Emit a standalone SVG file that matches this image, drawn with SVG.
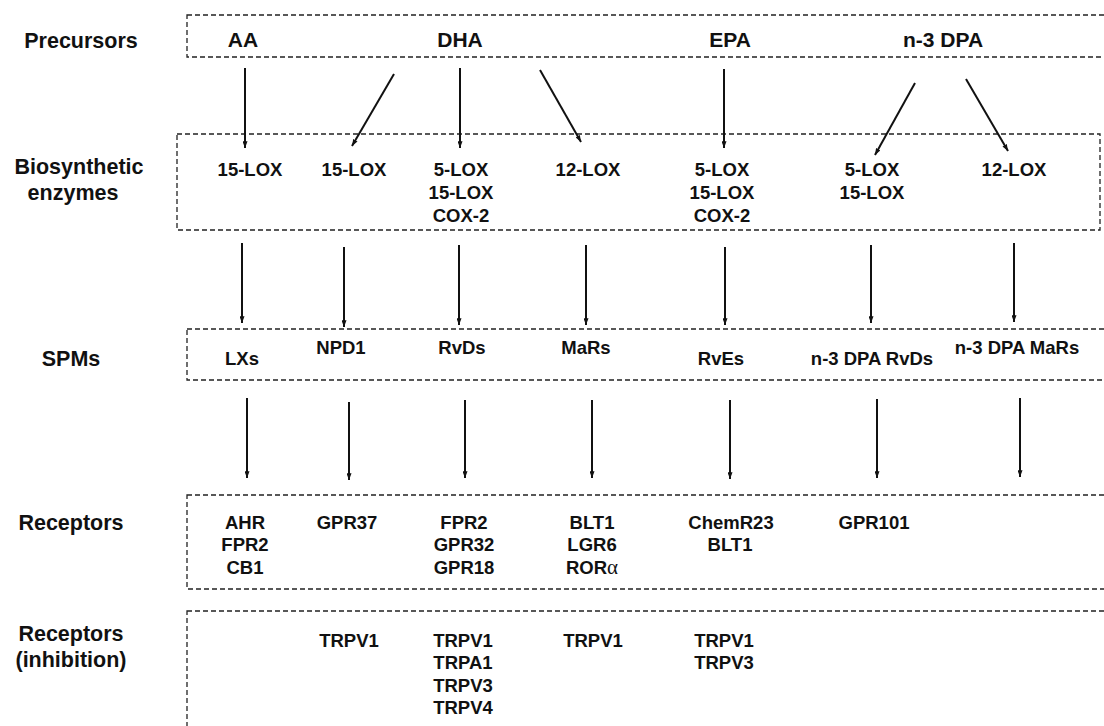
<svg xmlns="http://www.w3.org/2000/svg" width="1104" height="726" viewBox="0 0 1104 726">
<defs>
<marker id="ah" viewBox="0 0 8 6" refX="8" refY="3" markerWidth="7" markerHeight="5" markerUnits="userSpaceOnUse" orient="auto">
<path d="M0,0 L8,3 L0,6 z" fill="#111"/>
</marker>
</defs>
<style>
.box{fill:none;stroke:#222;stroke-width:1.3;stroke-dasharray:5 3}
.lab{font-family:"Liberation Sans",Arial,sans-serif;font-weight:bold;font-size:21.5px;fill:#111;text-anchor:middle}
.pre{font-family:"Liberation Sans",Arial,sans-serif;font-weight:bold;font-size:21px;fill:#111;text-anchor:middle}
.t{font-family:"Liberation Sans",Arial,sans-serif;font-weight:bold;font-size:18.5px;fill:#111;text-anchor:middle}
.ar{stroke:#111;stroke-width:2;fill:none;marker-end:url(#ah)}
</style>
<rect width="1104" height="726" fill="#fff"/>

<g id="labels">
<text class="lab" x="81" y="47.5">Precursors</text>
<text class="lab" x="79" y="174">Biosynthetic</text>
<text class="lab" x="73" y="200">enzymes</text>
<text class="lab" x="71" y="366">SPMs</text>
<text class="lab" x="71" y="530">Receptors</text>
<text class="lab" x="71" y="641">Receptors</text>
<text class="lab" x="71" y="667">(inhibition)</text>
</g>

<g id="precursors">
<rect class="box" x="187" y="15" width="940" height="42"/>
<text class="pre" x="243" y="46.5">AA</text>
<text class="pre" x="460" y="46.5">DHA</text>
<text class="pre" x="730" y="46.5">EPA</text>
<text class="pre" x="943" y="46.5">n-3 DPA</text>
</g>

<g id="enzymes">
<rect class="box" x="177" y="134" width="923" height="96"/>
<text class="t" x="250" y="176">15-LOX</text>
<text class="t" x="354" y="176">15-LOX</text>
<text class="t" x="461" y="176">5-LOX</text>
<text class="t" x="461" y="199">15-LOX</text>
<text class="t" x="461" y="222">COX-2</text>
<text class="t" x="588" y="176">12-LOX</text>
<text class="t" x="722" y="176">5-LOX</text>
<text class="t" x="722" y="199">15-LOX</text>
<text class="t" x="722" y="222">COX-2</text>
<text class="t" x="872" y="176">5-LOX</text>
<text class="t" x="872" y="199">15-LOX</text>
<text class="t" x="1014" y="176">12-LOX</text>
</g>

<g id="spms">
<rect class="box" x="187" y="329" width="940" height="51"/>
<text class="t" x="242" y="364.5">LXs</text>
<text class="t" x="341" y="353.5">NPD1</text>
<text class="t" x="462" y="353.5">RvDs</text>
<text class="t" x="586" y="353.5">MaRs</text>
<text class="t" x="721" y="364.5">RvEs</text>
<text class="t" x="872" y="364.5">n-3 DPA RvDs</text>
<text class="t" x="1017" y="353.5">n-3 DPA MaRs</text>
</g>

<g id="receptors">
<rect class="box" x="187" y="495" width="940" height="94"/>
<text class="t" x="245" y="528.5">AHR</text>
<text class="t" x="245" y="551">FPR2</text>
<text class="t" x="245" y="573.5">CB1</text>
<text class="t" x="347" y="528.5">GPR37</text>
<text class="t" x="464" y="528.5">FPR2</text>
<text class="t" x="464" y="551">GPR32</text>
<text class="t" x="464" y="573.5">GPR18</text>
<text class="t" x="592" y="528.5">BLT1</text>
<text class="t" x="592" y="551">LGR6</text>
<text class="t" x="592" y="573.5">ROR<tspan font-family="'Liberation Serif',serif" font-weight="normal" font-size="21px">α</tspan></text>
<text class="t" x="731" y="528.5">ChemR23</text>
<text class="t" x="730" y="551">BLT1</text>
<text class="t" x="874" y="528.5">GPR101</text>
</g>

<g id="inhibition">
<rect class="box" x="187" y="611" width="940" height="150"/>
<text class="t" x="349" y="646.5">TRPV1</text>
<text class="t" x="463" y="646.5">TRPV1</text>
<text class="t" x="463" y="669">TRPA1</text>
<text class="t" x="463" y="691.5">TRPV3</text>
<text class="t" x="463" y="714">TRPV4</text>
<text class="t" x="593" y="646.5">TRPV1</text>
<text class="t" x="724" y="646.5">TRPV1</text>
<text class="t" x="724" y="669">TRPV3</text>
</g>

<g id="connectors">
<line class="ar" x1="245" y1="68" x2="245" y2="148"/>
<line class="ar" x1="394" y1="74" x2="352" y2="146"/>
<line class="ar" x1="460" y1="68" x2="460" y2="148"/>
<line class="ar" x1="540" y1="70" x2="581" y2="142"/>
<line class="ar" x1="724" y1="69" x2="724" y2="148"/>
<line class="ar" x1="915" y1="83" x2="875" y2="155"/>
<line class="ar" x1="966" y1="79" x2="1008" y2="151"/>

<line class="ar" x1="242" y1="243" x2="242" y2="323"/>
<line class="ar" x1="344" y1="247" x2="344" y2="327"/>
<line class="ar" x1="459" y1="245" x2="459" y2="325"/>
<line class="ar" x1="586" y1="245" x2="586" y2="325"/>
<line class="ar" x1="725" y1="247" x2="725" y2="325"/>
<line class="ar" x1="871" y1="245" x2="871" y2="323"/>
<line class="ar" x1="1014" y1="243" x2="1014" y2="322"/>

<line class="ar" x1="247" y1="398" x2="247" y2="478"/>
<line class="ar" x1="349" y1="402" x2="349" y2="480"/>
<line class="ar" x1="465" y1="400" x2="465" y2="478"/>
<line class="ar" x1="592" y1="400" x2="592" y2="478"/>
<line class="ar" x1="730" y1="400" x2="730" y2="479"/>
<line class="ar" x1="877" y1="399" x2="877" y2="478"/>
<line class="ar" x1="1020" y1="398" x2="1020" y2="477"/>
</g>
</svg>
